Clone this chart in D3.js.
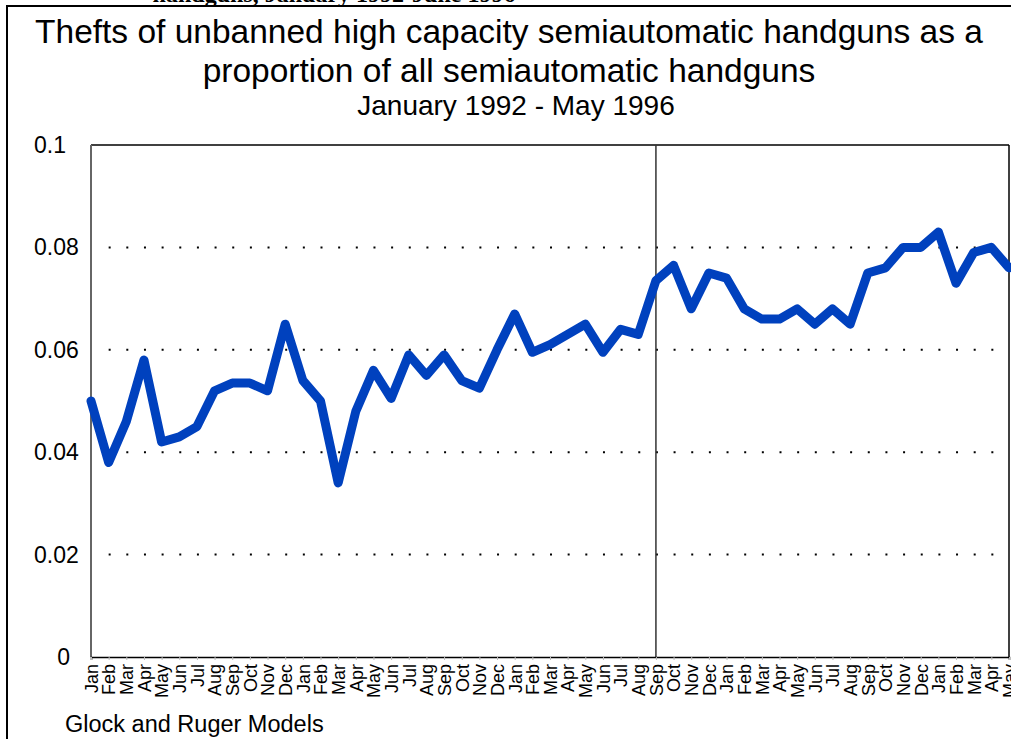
<!DOCTYPE html>
<html>
<head>
<meta charset="utf-8">
<script src="https://cdn.jsdelivr.net/npm/d3@7"></script>
<style>
  body { margin: 0; background: #fff; }
  svg { display: block; font-family: Arial, "Liberation Sans", sans-serif; }
</style>
</head>
<body>
<div id="chart"></div>
<script>
// Month labels, Jan 1992 - May 1996
const monthNames = ["Jan", "Feb", "Mar", "Apr", "May", "Jun", "Jul", "Aug", "Sep", "Oct", "Nov", "Dec"];
const months = [];
for (let y = 1992; y <= 1996; y++) {
    monthNames.forEach((m, i) => {
        if (y === 1996 && i > 4) return;
        months.push(m + " " + y);
    });
}

// Share of thefts
const shares = [
    0.050, 0.038, 0.046, 0.058, 0.042, 0.043, 0.045, 0.052, 0.0535, 0.0535, 0.052, 0.065,
    0.054, 0.050, 0.034, 0.048, 0.056, 0.0505, 0.059, 0.055, 0.059, 0.054, 0.0525, 0.060,
    0.067, 0.0595, 0.061, 0.063, 0.065, 0.0595, 0.064, 0.063, 0.0735, 0.0765, 0.068, 0.075,
    0.074, 0.068, 0.066, 0.066, 0.068, 0.065, 0.068, 0.065, 0.075, 0.076, 0.080, 0.080,
    0.083, 0.073, 0.079, 0.080, 0.076
];

const yTicks = [0, 0.02, 0.04, 0.06, 0.08, 0.1];
const gridTicks = [0.02, 0.04, 0.06, 0.08];
const markerMonth = "Sep 1994";

const width = 1011, height = 739;
const plot = { left: 91, right: 1009, top: 145, bottom: 657 };

const svg = d3.select("#chart").append("svg")
    .attr("width", width)
    .attr("height", height);

const x = d3.scalePoint()
    .domain(months)
    .range([plot.left, plot.right]);

const y = d3.scaleLinear()
    .domain([0, 0.1])
    .range([plot.bottom, plot.top]);

// Outer frame (partly cut off by the window)
svg.append("rect")
    .attr("x", 7).attr("y", 6)
    .attr("width", 1100).attr("height", 800)
    .attr("fill", "none")
    .attr("stroke", "#000")
    .attr("stroke-width", 2);

// Caption text cut off at the very top
svg.append("text")
    .attr("x", 334).attr("y", 2)
    .attr("text-anchor", "middle")
    .attr("font-family", "'Liberation Serif', 'Times New Roman', serif")
    .attr("font-weight", "bold")
    .attr("font-size", 24)
    .text("handguns, January 1992-June 1996");

// Titles
const titles = [
    { text: "Thefts of unbanned high capacity semiautomatic handguns as a", x: 509, y: 43, size: 33.5 },
    { text: "proportion of all semiautomatic handguns", x: 509, y: 82, size: 33.5 },
    { text: "January 1992 - May 1996", x: 516, y: 115, size: 28 }
];
svg.append("g").selectAll("text")
    .data(titles)
    .join("text")
    .attr("x", d => d.x)
    .attr("y", d => d.y)
    .attr("text-anchor", "middle")
    .attr("font-size", d => d.size)
    .attr("fill", "#000")
    .text(d => d.text);

// Dotted gridlines
const step = x.step();
svg.append("g").selectAll("line")
    .data(gridTicks)
    .join("line")
    .attr("x1", plot.left + step)
    .attr("x2", plot.right)
    .attr("y1", d => y(d))
    .attr("y2", d => y(d))
    .attr("stroke", "#000")
    .attr("stroke-width", 2)
    .attr("stroke-dasharray", "2," + (step - 2));

// Plot frame
svg.append("line")
    .attr("x1", plot.left).attr("x2", plot.right)
    .attr("y1", plot.top).attr("y2", plot.top)
    .attr("stroke", "#000").attr("stroke-width", 1.5);
svg.append("line")
    .attr("x1", plot.right).attr("x2", plot.right)
    .attr("y1", plot.top).attr("y2", plot.bottom)
    .attr("stroke", "#000").attr("stroke-width", 1.5);
svg.append("line")
    .attr("x1", plot.left).attr("x2", plot.left)
    .attr("y1", plot.top).attr("y2", plot.bottom)
    .attr("stroke", "#666").attr("stroke-width", 2);

// Vertical marker line at Sep 1994
svg.append("line")
    .attr("x1", x(markerMonth)).attr("x2", x(markerMonth))
    .attr("y1", plot.top).attr("y2", plot.bottom)
    .attr("stroke", "#333").attr("stroke-width", 1.5);

// X axis with month labels
const xAxis = svg.append("g")
    .attr("transform", `translate(0,${plot.bottom})`)
    .call(d3.axisBottom(x).tickSize(3).tickFormat(d => d.split(" ")[0]));
xAxis.select(".domain").attr("stroke", "#000").attr("stroke-width", 1.5);
xAxis.selectAll(".tick line").attr("stroke", "#bbb");
xAxis.selectAll(".tick text")
    .attr("font-size", 18)
    .attr("font-family", "Arial, 'Liberation Sans', sans-serif")
    .attr("fill", "#000")
    .attr("text-anchor", "end")
    .attr("transform", "rotate(-90)")
    .attr("x", -7)
    .attr("y", 0)
    .attr("dy", "0.35em");

// Y axis labels
svg.append("g").selectAll("text")
    .data(yTicks)
    .join("text")
    .attr("x", d => d === 0 ? 70 : 34)
    .attr("y", d => y(d))
    .attr("dy", "0.35em")
    .attr("text-anchor", d => d === 0 ? "end" : "start")
    .attr("font-size", 23)
    .attr("fill", "#000")
    .text(d => d === 0 ? "0" : d3.format("")(d));

// Data line
const line = d3.line()
    .x((d, i) => x(months[i]))
    .y(d => y(d));

svg.append("path")
    .datum(shares)
    .attr("d", line)
    .attr("fill", "none")
    .attr("stroke", "#0041BE")
    .attr("stroke-width", 9)
    .attr("stroke-linejoin", "round")
    .attr("stroke-linecap", "round");

// Footnote
svg.append("text")
    .attr("x", 65).attr("y", 732)
    .attr("font-size", 23.5)
    .attr("fill", "#000")
    .text("Glock and Ruger Models");
</script>
</body>
</html>
